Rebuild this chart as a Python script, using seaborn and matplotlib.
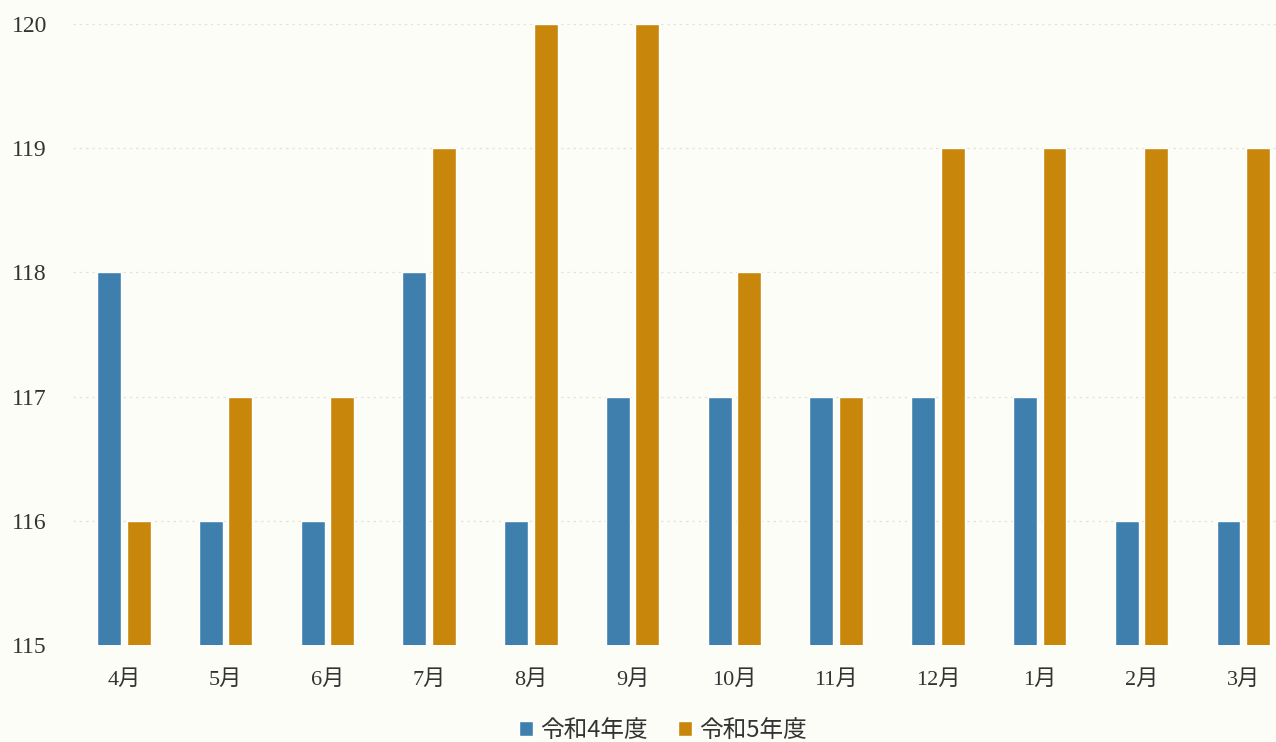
import matplotlib
matplotlib.use("Agg")
import matplotlib.pyplot as plt
import seaborn as sns
import pandas as pd

months = ["4月", "5月", "6月", "7月", "8月", "9月", "10月", "11月", "12月", "1月", "2月", "3月"]
series_names = ["令和4年度", "令和5年度"]
r4_values = [118, 116, 116, 118, 116, 117, 117, 117, 117, 117, 116, 116]
r5_values = [116, 117, 117, 119, 120, 120, 118, 117, 119, 119, 119, 119]
y_ticks = [115, 116, 117, 118, 119, 120]

df = pd.DataFrame({
    "month": months * 2,
    "series": [series_names[0]] * len(months) + [series_names[1]] * len(months),
    "value": r4_values + r5_values,
})

sns.set_theme(style="white")
plt.rcParams["font.family"] = ["Liberation Serif", "Noto Sans CJK JP"]

bg = "#fdfdf8"
fig = plt.figure(figsize=(12.76, 7.42), dpi=100, facecolor=bg)
ax = fig.add_axes([0.0572, 0.1307, 0.957, 0.837])
ax.set_facecolor(bg)

palette = {series_names[0]: "#3f7fae", series_names[1]: "#c8870a"}
sns.barplot(data=df, x="month", y="value", hue="series", order=months,
            hue_order=series_names, palette=palette, width=0.58, gap=0.19,
            saturation=1, ax=ax, legend=True)

ax.set_ylim(115, 120)
ax.set_yticks(y_ticks)
ax.set_yticklabels([str(t) for t in y_ticks])
ax.set_xlim(-0.5, len(months) - 0.5)
ax.set_xlabel("")
ax.set_ylabel("")
for s in ax.spines.values():
    s.set_visible(False)
ax.yaxis.grid(True, color="#e4e4dc", linestyle=(0, (2, 3)), linewidth=0.9)
ax.set_axisbelow(True)
ax.tick_params(axis="y", labelsize=17, colors="#333333", pad=0, length=0)
ax.tick_params(axis="x", labelsize=16, colors="#333333", pad=18, length=0)
for lab in ax.get_yticklabels():
    lab.set_horizontalalignment("left")
    lab.set_x(-0.050)

leg = ax.legend(loc="center", bbox_to_anchor=(0.483, -0.137), ncol=2,
                frameon=False, handlelength=0.6, handleheight=0.6,
                handletextpad=0.3, columnspacing=1.3, borderaxespad=0, borderpad=0,
                prop={"family": ["Noto Sans CJK JP"], "size": 17})
for t in leg.get_texts():
    t.set_color("#333333")

fig.savefig("out.png", dpi=100, facecolor=bg)
